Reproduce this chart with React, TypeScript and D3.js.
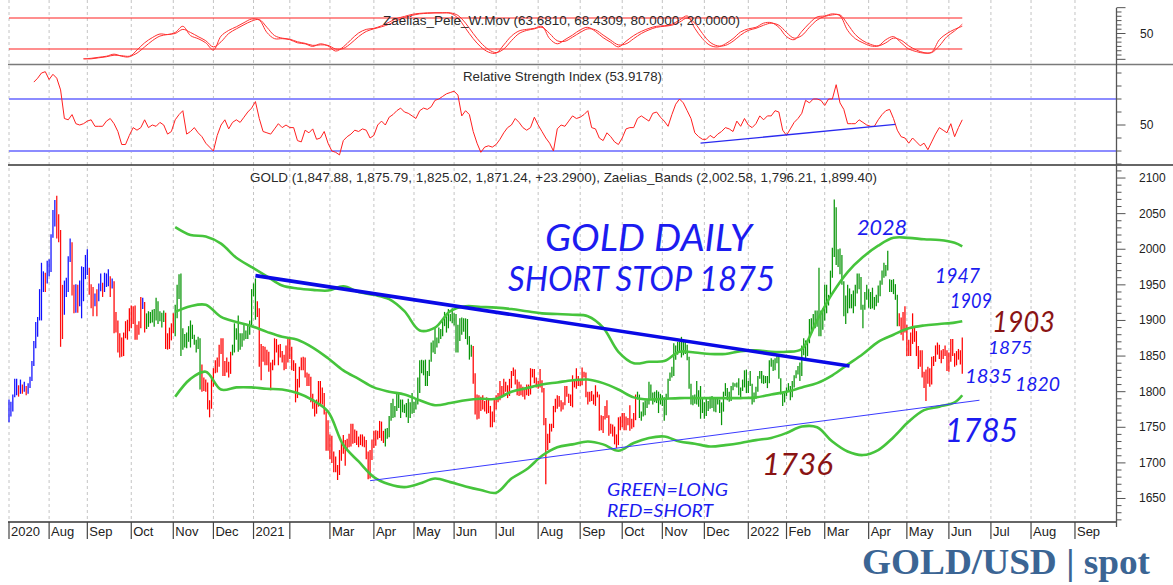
import React from 'react';
import * as d3 from 'd3';

const W = 1173, H = 585;

// trading days per month (Jul 2020 .. Sep 2022) and labels
const monthLabels = ['2020','Aug','Sep','Oct','Nov','Dec','2021','','Mar','Apr','May','Jun','Jul','Aug','Sep','Oct','Nov','Dec','2022','Feb','Mar','Apr','May','Jun','Jul','Aug','Sep'];
const monthDays = [21,20,23,22,21,21,19,21,23,21,21,22,22,22,22,21,22,23,20,20,23,20,22,22,21,23,22];

// daily highs / lows (GOLD spot), one per trading day
const hi = [
  1789,1786,1796,1818,1818,1809,1817,1810,1814,1808,1812,1821,1843,1871,1898,1905,1944,1981,1969,1967,1984,
  1986,2021,2055,2069,2075,2049,2027,1950,1956,1960,1990,2015,2010,1950,1951,1950,1956,1976,1975,1992,
  2000,1974,1951,1947,1938,1944,1952,1966,1953,1967,1966,1972,1962,1959,1955,1912,1900,1882,1876,1883,1899,1901,1917,
  1921,1920,1921,1894,1899,1933,1932,1926,1910,1913,1912,1915,1916,1932,1927,1913,1911,1914,1911,1882,1890,1896,
  1910,1922,1950,1965,1966,1889,1881,1883,1892,1900,1894,1880,1873,1877,1875,1838,1820,1817,1813,1788,1820,
  1833,1844,1848,1866,1875,1875,1843,1848,1842,1856,1866,1896,1889,1907,1882,1882,1894,1886,1893,1900,1944,
  1952,1959,1927,1917,1867,1864,1863,1859,1856,1841,1845,1875,1874,1866,1867,1857,1852,1865,1875,
  1875,1863,1844,1840,1818,1835,1848,1849,1848,1827,1825,1821,1797,1785,1789,1815,1815,1806,1798,1772,1760,
  1740,1738,1716,1709,1697,1718,1728,1739,1732,1734,1741,1755,1755,1747,1745,1737,1740,1740,1737,1732,1716,1718,1733,
  1745,1746,1745,1759,1758,1745,1748,1749,1766,1784,1790,1780,1797,1797,1789,1789,1782,1784,1790,1785,1798,
  1786,1791,1820,1844,1845,1844,1845,1829,1845,1869,1872,1890,1876,1890,1888,1900,1912,1906,1916,1909,1917,
  1910,1909,1894,1903,1904,1903,1903,1902,1878,1866,1864,1826,1796,1795,1793,1795,1787,1792,1790,1780,1772,1790,
  1795,1798,1815,1808,1818,1814,1809,1818,1829,1834,1831,1817,1814,1810,1807,1806,1810,1810,1833,1832,1832,1820,
  1815,1832,1816,1805,1763,1741,1755,1755,1780,1790,1795,1794,1788,1785,1808,1808,1797,1796,1823,1817,1833,1822,
  1816,1834,1828,1827,1800,1800,1801,1796,1809,1800,1796,1767,1766,1780,1788,1767,1755,1754,1751,1740,1764,1765,
  1770,1770,1765,1763,1781,1762,1770,1796,1800,1796,1772,1785,1788,1789,1814,1810,1799,1800,1802,1800,1797,
  1795,1792,1797,1818,1827,1835,1868,1865,1870,1870,1877,1872,1870,1866,1849,1811,1795,1796,1815,1802,1808,1792,
  1785,1791,1787,1793,1794,1790,1790,1791,1789,1785,1800,1812,1805,1800,1808,1813,1812,1813,1819,1806,1817,1830,1831,
  1815,1829,1811,1799,1807,1822,1829,1829,1823,1822,1822,1844,1847,1845,1847,1853,1849,1819,1799,1798,
  1806,1812,1808,1815,1823,1830,1836,1841,1865,1875,1872,1872,1902,1903,1909,1914,1914,1974,1914,1917,
  1950,1950,1936,1970,2002,2070,2059,2000,2001,1992,1955,1935,1950,1945,1937,1942,1950,1966,1966,1961,1922,1940,1950,
  1944,1940,1946,1933,1936,1949,1956,1970,1981,1978,1998,1958,1957,1958,1951,1936,1910,1904,1912,1920,
  1894,1873,1883,1910,1890,1885,1864,1858,1858,1828,1831,1835,1833,1849,1850,1865,1869,1866,1858,1860,1865,1858,
  1855,1874,1874,1854,1857,1860,1858,1876
];
const lo = [
  1757,1765,1772,1792,1795,1793,1797,1797,1800,1795,1797,1805,1815,1836,1861,1877,1900,1900,1940,1940,1952,
  1962,1968,2016,2032,2015,2010,1863,1874,1908,1933,1940,1982,1935,1910,1911,1911,1920,1903,1927,1958,
  1964,1936,1917,1906,1920,1906,1927,1941,1933,1940,1947,1948,1933,1945,1882,1883,1855,1848,1849,1850,1875,1873,1885,
  1889,1895,1873,1873,1880,1889,1916,1883,1888,1891,1896,1897,1891,1900,1895,1899,1890,1898,1860,1859,1860,1872,
  1882,1878,1903,1930,1850,1859,1862,1861,1870,1862,1874,1866,1855,1860,1803,1800,1801,1800,1775,1764,1776,
  1807,1826,1827,1835,1853,1822,1822,1827,1820,1825,1851,1855,1873,1856,1859,1863,1872,1874,1874,1880,1891,
  1934,1901,1905,1835,1816,1842,1837,1837,1828,1802,1830,1837,1855,1837,1848,1841,1830,1832,1841,
  1846,1830,1829,1785,1791,1806,1830,1830,1820,1808,1808,1785,1776,1765,1769,1779,1782,1782,1768,1717,1717,
  1705,1700,1687,1687,1676,1683,1703,1713,1696,1718,1722,1723,1727,1728,1725,1722,1725,1723,1722,1705,1677,1678,1704,
  1721,1724,1733,1735,1731,1728,1723,1734,1736,1759,1763,1764,1773,1777,1763,1771,1770,1764,1756,1763,1769,
  1770,1775,1782,1798,1826,1823,1808,1808,1822,1842,1855,1853,1862,1868,1874,1878,1892,1883,1889,1899,1896,
  1893,1855,1855,1871,1880,1884,1874,1866,1845,1849,1811,1768,1761,1762,1773,1775,1772,1769,1770,1750,1750,1757,
  1775,1785,1788,1793,1794,1800,1791,1794,1805,1822,1810,1795,1794,1795,1793,1789,1795,1794,1796,1820,1812,1806,
  1804,1806,1799,1753,1670,1718,1728,1744,1749,1771,1776,1779,1772,1775,1781,1793,1784,1780,1778,1806,1804,1808,
  1808,1809,1820,1792,1782,1786,1787,1782,1780,1792,1745,1746,1742,1761,1763,1738,1741,1737,1726,1721,1725,1746,
  1750,1746,1746,1753,1745,1748,1750,1760,1789,1763,1759,1765,1767,1777,1782,1790,1782,1785,1784,1770,1782,
  1780,1759,1767,1791,1815,1820,1822,1845,1852,1855,1848,1851,1853,1844,1804,1782,1781,1783,1782,1779,1762,1770,
  1762,1766,1773,1776,1777,1772,1771,1782,1770,1753,1772,1794,1788,1786,1787,1802,1807,1806,1795,1790,1801,1806,1798,
  1798,1808,1782,1785,1790,1800,1818,1812,1811,1812,1805,1812,1835,1829,1830,1840,1818,1796,1780,1785,
  1794,1800,1788,1792,1806,1819,1824,1815,1822,1851,1846,1850,1868,1883,1888,1889,1891,1878,1878,1887,
  1900,1910,1921,1935,1960,1989,1978,1975,1965,1950,1906,1895,1910,1917,1917,1910,1920,1938,1944,1915,1889,1915,1929,
  1918,1916,1917,1915,1920,1925,1934,1950,1960,1962,1970,1940,1940,1937,1929,1892,1892,1880,1872,1883,
  1850,1850,1850,1867,1870,1850,1832,1835,1820,1805,1787,1811,1807,1810,1836,1842,1852,1846,1840,1846,1850,1829,
  1828,1842,1850,1835,1837,1845,1838,1825
];

// signal regimes: [first bar, mode]  B = pre-signal (blue up / red down), G = long, R = short
const regimes: [number, string][] = [[0,'B'],[55,'R'],[70,'B'],[72,'G'],[82,'R'],[87,'G'],[101,'R'],[117,'G'],[130,'R'],[197,'G'],[243,'R'],[329,'G'],[466,'R']];

// Zaelias bands, sampled on bars bandIdx
const bandIdx = [87,95,103,111,119,127,135,143,151,159,167,175,183,191,199,207,215,223,231,239,247,255,263,271,279,287,295,303,311,319,327,335,343,351,359,367,375,383,391,399,407,415,423,431,439,447,455,463,471,479,487,495,499];
const bandUpper = [2031,2020,2018,2008,1988,1975,1962,1949,1945,1943,1942,1948,1940,1936,1930,1913,1886,1890,1913,1920,1919,1918,1916,1913,1910,1909,1908,1906,1890,1856,1840,1842,1843,1856,1855,1853,1853,1857,1858,1856,1856,1860,1900,1938,1968,1989,2005,2016,2016,2014,2013,2009,2004];
const bandMid = [1912,1920,1922,1905,1898,1892,1884,1877,1873,1862,1847,1830,1818,1806,1800,1796,1788,1781,1784,1788,1790,1790,1800,1805,1810,1813,1816,1817,1812,1803,1792,1789,1790,1791,1791,1791,1791,1791,1792,1796,1800,1806,1812,1823,1838,1853,1870,1880,1889,1893,1895,1897,1899];
const bandLower = [1793,1818,1828,1803,1806,1806,1804,1803,1798,1788,1772,1725,1702,1680,1670,1666,1671,1678,1673,1667,1662,1658,1678,1691,1710,1722,1726,1730,1726,1717,1728,1735,1737,1730,1727,1723,1725,1728,1732,1735,1742,1751,1750,1730,1716,1711,1718,1736,1758,1774,1779,1785,1795];

// RSI(14), every second bar from bar 13 to bar 499
const rsiStart = 13;
const rsi = [83,86,90,91,85,89,86,77,55,54,58,51,50,51,53,54,49,49,49,53,55,51,45,35,35,42,48,46,48,54,
  48,50,49,52,50,43,45,54,58,61,43,45,48,44,41,36,33,30,42,50,54,47,52,54,52,56,60,63,68,55,
  45,44,43,47,51,48,50,48,48,38,37,46,44,47,39,40,45,36,30,29,27,38,41,43,46,45,47,46,40,42,
  50,53,50,56,58,61,63,60,59,57,55,61,63,62,64,69,70,72,74,75,76,73,57,61,58,45,36,29,33,34,
  33,35,39,44,48,50,55,52,48,46,48,56,50,45,40,36,30,47,50,49,53,57,55,56,58,61,48,47,40,38,
  44,41,37,35,40,47,48,48,55,57,55,53,59,60,56,53,49,58,66,70,67,61,55,44,41,39,39,42,40,43,
  45,48,47,45,53,49,55,50,48,51,57,54,57,57,61,60,46,42,47,52,55,59,69,67,70,70,69,65,70,70,
  81,67,62,51,51,51,54,52,50,49,49,54,58,61,62,55,46,41,40,36,40,37,34,36,31,37,43,48,46,44,
  51,41,48,54];

// Zaelias_Pele_W.Mov, two lines, every fourth bar from bar 39 to bar 499
const zaeStart = 39;
const zaeFast = [1,2,4,6,10,6,5,18,32,42,49,48,52,64,46,40,32,18,45,56,63,71,78,76,52,40,40,38,32,30,
  25,30,26,16,24,38,51,58,60,65,72,79,83,87,89,90,90,90,89,80,60,40,24,14,12,28,45,55,58,60,
  64,40,30,38,47,57,62,54,42,33,24,35,46,54,60,64,65,68,76,84,60,40,27,24,30,40,53,59,62,70,
  71,62,44,38,54,70,82,84,88,84,56,40,32,26,26,38,44,32,20,15,12,14,38,50,58,64];
const zaeSlow = [1,1,3,5,8,7,6,12,24,36,45,48,50,58,52,44,36,24,34,50,59,67,74,77,62,46,41,39,34,31,
  27,28,27,20,21,31,44,54,59,63,68,75,81,85,88,89,90,90,90,85,70,50,32,19,13,20,36,50,56,59,
  62,50,36,35,43,52,59,57,47,37,28,30,40,50,57,62,64,66,72,80,70,50,33,26,27,35,47,56,60,66,
  70,66,52,41,46,62,76,83,86,86,68,48,36,29,26,32,41,37,26,18,13,13,26,44,55,68];

// drawn trend lines: [bar, value]
const resistance: [number, number][] = [[129, 1963], [440, 1836]];
const support: [number, number][] = [[189, 1675], [508, 1788]];
const rsiTrend: [number, number][] = [[362, 36], [464, 50.5]];

const annotations = [
  { t: 'GOLD DAILY', x: 545, y: 251, s: 36, w: 207, c: '#1c1cf0' },
  { t: 'SHORT STOP 1875', x: 508, y: 291, s: 34, w: 267, c: '#1c1cf0' },
  { t: '2028', x: 857, y: 235, s: 21, w: 50, c: '#1c1cf0' },
  { t: '1947', x: 935, y: 283, s: 21, w: 45, c: '#1c1cf0' },
  { t: '1909', x: 950, y: 308, s: 21, w: 42, c: '#1c1cf0' },
  { t: '1903', x: 992, y: 332, s: 29, w: 63, c: '#8a1414' },
  { t: '1875', x: 988, y: 354, s: 18, w: 44, c: '#1c1cf0' },
  { t: '1835', x: 965, y: 383, s: 19, w: 47, c: '#1c1cf0' },
  { t: '1820', x: 1015, y: 391, s: 19, w: 45, c: '#1c1cf0' },
  { t: '1785', x: 945, y: 442, s: 33, w: 73, c: '#1c1cf0' },
  { t: '1736', x: 762, y: 475, s: 31, w: 71, c: '#8a1414' },
  { t: 'GREEN=LONG', x: 607, y: 496, s: 17, w: 121, c: '#1c1cf0' },
  { t: 'RED=SHORT', x: 607, y: 517, s: 17, w: 106, c: '#1c1cf0' },
];

export default function App() {
  const x = d3.scaleLinear().domain([0, 580]).range([9, 1117]);
  const yP = d3.scaleLinear().domain([1617, 2118.3]).range([522, 165]);
  const yR = d3.scaleLinear().domain([30, 70]).range([151, 99]);
  const yZ = d3.scaleLinear().domain([20, 80]).range([49, 18]);
  const axisX = 1116.5;

  const monthStart = [0, ...Array.from(d3.cumsum(monthDays))];
  const gridXs = monthStart.slice(0, monthLabels.length).map(i => x(i));

  const regimeAt = (i: number) => { let r = 'B'; for (const [s, c] of regimes) if (i >= s) r = c; return r; };
  const barColor = (i: number) => {
    const r = regimeAt(i);
    if (r === 'G') return '#0a960a';
    if (r === 'R') return '#ff0000';
    const up = i === 0 || hi[i] + lo[i] >= hi[i - 1] + lo[i - 1];
    return up ? '#1010ff' : '#ff1010';
  };

  const bandLine = d3.line<number>().x((_, i) => x(bandIdx[i])).y(v => yP(v)).curve(d3.curveCatmullRom);
  const rsiLine = d3.line<number>().x((_, i) => x(rsiStart + 2 * i)).y(v => yR(v));
  const zaeLine = d3.line<number>().x((_, i) => x(zaeStart + 4 * i)).y(v => yZ(v)).curve(d3.curveCatmullRom);

  const priceTicks = d3.range(1620, 2111, 10);
  const rsiTicks = d3.range(20, 91, 10);
  const zaeTicks = d3.range(0, 13);

  const handFont = "Lato, 'Open Sans', sans-serif";

  return (
    <svg width={W} height={H} style={{ position: 'absolute', left: 0, top: 0, background: '#fff' }}
      fontFamily="'Liberation Sans', Arial, sans-serif">
      <rect width={W} height={H} fill="#fff" />
      {/* vertical dashed grid */}
      {gridXs.map((gx, i) => (
        <line key={'g' + i} x1={gx} x2={gx} y1={0} y2={522} stroke="#c4c4c4" strokeDasharray="3,3" />
      ))}

      {/* Zaelias panel */}
      <line x1={9} x2={x(499)} y1={yZ(80)} y2={yZ(80)} stroke="#ff2020" strokeWidth={1.2} />
      <line x1={9} x2={x(499)} y1={yZ(20)} y2={yZ(20)} stroke="#ff2020" strokeWidth={1.2} />
      <path d={zaeLine(zaeSlow) || ''} fill="none" stroke="#ff3030" strokeWidth={1} />
      <path d={zaeLine(zaeFast) || ''} fill="none" stroke="#ff3030" strokeWidth={1} />
      <text x={383} y={25} fontSize={13} fill="#2a2a2a" textLength={357} lengthAdjust="spacingAndGlyphs">Zaelias_Pele_W.Mov (63.6810, 68.4309, 80.0000, 20.0000)</text>

      {/* RSI panel */}
      <line x1={9} x2={axisX} y1={yR(70)} y2={yR(70)} stroke="#8c8cff" strokeWidth={2} />
      <line x1={9} x2={axisX} y1={yR(30)} y2={yR(30)} stroke="#8c8cff" strokeWidth={2} />
      <path d={rsiLine(rsi) || ''} fill="none" stroke="#ff2020" strokeWidth={1} />
      <line x1={x(rsiTrend[0][0])} y1={yR(rsiTrend[0][1])} x2={x(rsiTrend[1][0])} y2={yR(rsiTrend[1][1])} stroke="#2a2af0" strokeWidth={1.3} />
      <text x={463} y={81} fontSize={13} fill="#2a2a2a" textLength={199} lengthAdjust="spacingAndGlyphs">Relative Strength Index (53.9178)</text>

      {/* price bars */}
      {hi.map((h, i) => (
        <line key={'b' + i} x1={x(i)} x2={x(i)} y1={yP(h)} y2={yP(lo[i])} stroke={barColor(i)} strokeWidth={1.25} />
      ))}
      {/* bands */}
      {[bandUpper, bandMid, bandLower].map((b, i) => (
        <path key={'band' + i} d={bandLine(b) || ''} fill="none" stroke="#46c43c" strokeWidth={2.6} />
      ))}
      {/* trend lines */}
      <line x1={x(resistance[0][0])} y1={yP(resistance[0][1])} x2={x(resistance[1][0])} y2={yP(resistance[1][1])} stroke="#0a0ae6" strokeWidth={3.6} />
      <line x1={x(support[0][0])} y1={yP(support[0][1])} x2={x(support[1][0])} y2={yP(support[1][1])} stroke="#3a3aff" strokeWidth={1} />

      <text x={250} y={182} fontSize={13} fill="#2a2a2a" textLength={627} lengthAdjust="spacingAndGlyphs">GOLD (1,847.88, 1,875.79, 1,825.02, 1,871.24, +23.2900), Zaelias_Bands (2,002.58, 1,796.21, 1,899.40)</text>

      {/* handwritten annotations */}
      {annotations.map((a, i) => (
        <text key={'a' + i} x={a.x} y={a.y} fontSize={a.s} fill={a.c} fontFamily={handFont} fontStyle="italic" fontWeight={400}
          textLength={a.w} lengthAdjust="spacingAndGlyphs">{a.t}</text>
      ))}

      {/* panel separators */}
      <line x1={8} x2={W} y1={64.5} y2={64.5} stroke="#7a7a7a" strokeWidth={1.6} />
      <line x1={8} x2={W} y1={165} y2={165} stroke="#333" strokeWidth={1.3} />
      <line x1={8} x2={axisX} y1={522} y2={522} stroke="#333" strokeWidth={1.3} />

      {/* right axis */}
      <line x1={axisX} x2={axisX} y1={8} y2={527} stroke="#555" strokeWidth={1.3} />
      {zaeTicks.map(k => {
        const v = (k * 100) / 12; const major = k % 6 === 0;
        return <line key={'zt' + k} x1={axisX} x2={axisX + (major ? 9 : 5)} y1={yZ(v)} y2={yZ(v)} stroke="#555" />;
      })}
      <text x={1140} y={yZ(50) + 4} fontSize={12} fill="#222">50</text>
      {rsiTicks.map(v => (
        <line key={'rt' + v} x1={axisX} x2={axisX + (v === 50 ? 9 : 5)} y1={yR(v)} y2={yR(v)} stroke="#555" />
      ))}
      <text x={1140} y={yR(50) + 4} fontSize={12} fill="#222">50</text>
      {priceTicks.map(v => {
        const major = v % 50 === 0;
        return (
          <g key={'pt' + v}>
            <line x1={axisX} x2={axisX + (major ? 9 : 5)} y1={yP(v)} y2={yP(v)} stroke="#555" />
            {major && <text x={1139} y={yP(v) + 4} fontSize={12} fill="#222">{v}</text>}
          </g>
        );
      })}

      {/* x axis month labels */}
      {gridXs.map((gx, i) => (
        <g key={'m' + i}>
          <line x1={gx} x2={gx} y1={522} y2={539} stroke="#444" strokeWidth={1.2} />
          <text x={gx + 2} y={536} fontSize={13} fill="#222">{monthLabels[i]}</text>
        </g>
      ))}

      <text x={862} y={574} fontSize={36} fontWeight="bold" fill="#3b6594" fontFamily="'Liberation Serif', 'DejaVu Serif', serif"
        textLength={288} lengthAdjust="spacingAndGlyphs">GOLD/USD | spot</text>
    </svg>
  );
}
